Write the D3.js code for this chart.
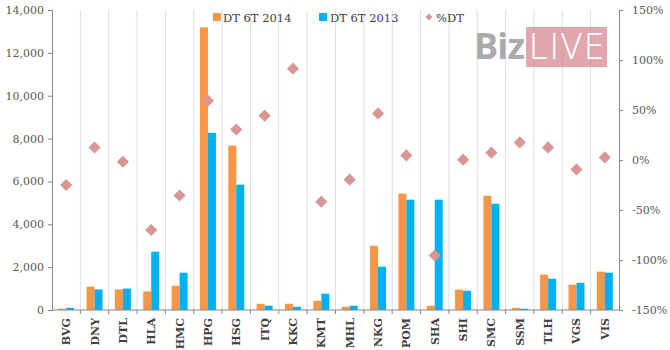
<!DOCTYPE html>
<html>
<head>
<meta charset="utf-8">
<script src="https://cdn.jsdelivr.net/npm/d3@7"></script>
<style>
	body { margin: 0; background: #fff; }
	#chart { width: 670px; height: 350px; }
	.axis text { font-family: "DejaVu Serif", serif; font-size: 11px; fill: #595959; }
	.legend text { font-family: "DejaVu Serif", serif; font-size: 11.5px; fill: #404040; }
	.cat-label { font-family: "DejaVu Serif", serif; font-size: 11px; font-weight: bold; fill: #404040; }
</style>
</head>
<body>
<div id="chart"></div>
<script>

// Data
let categories = ["BVG", "DNY", "DTL", "HLA", "HMC", "HPG", "HSG", "ITQ", "KKC", "KMT",
	"MHL", "NKG", "POM", "SHA", "SHI", "SMC", "SSM", "TLH", "VGS", "VIS"];
let dt2014 = [60, 1090, 960, 870, 1130, 13190, 7670, 290, 290, 430,
	150, 3000, 5430, 200, 950, 5330, 100, 1650, 1180, 1790];
let dt2013 = [100, 960, 1000, 2720, 1740, 8270, 5850, 200, 150, 760,
	200, 2020, 5150, 5150, 900, 4960, 60, 1460, 1270, 1740];
let pctDT = [-0.25, 0.125, -0.017, -0.70, -0.355, 0.593, 0.305, 0.443, 0.913, -0.417,
	-0.197, 0.466, 0.046, -0.955, 0.003, 0.073, 0.176, 0.126, -0.094, 0.026];
let leftTicks = [0, 2000, 4000, 6000, 8000, 10000, 12000, 14000];
let rightTicks = [-1.5, -1, -0.5, 0, 0.5, 1, 1.5];
let seriesNames = ["DT 6T 2014", "DT 6T 2013", "%DT"];

let colors = {o: "#f79646", b: "#00b0f0", d: "#d99694"};

let margin = {top: 10, right: 51, bottom: 40, left: 52};
let width = 670 - margin.left - margin.right;
let height = 350 - margin.top - margin.bottom;

let svg = d3.select("#chart").append("svg")
	.attr("width", 670)
	.attr("height", 350)
	.append("g")
	.attr("transform", "translate(" + margin.left + "," + margin.top + ")");

// Scales
let x = d3.scaleBand().domain(categories).range([0, width]).padding(0);
let bw = 8;
let x1 = d3.scaleBand().domain(["2014", "2013"])
	.range([x.bandwidth() / 2 - bw, x.bandwidth() / 2 + bw]);
let y = d3.scaleLinear().domain([0, 14000]).range([height, 0]);
let y2 = d3.scaleLinear().domain([-1.5, 1.5]).range([height, 0]);

// Vertical gridlines at category boundaries
let bounds = categories.map(c => x(c)).slice(1);
svg.selectAll(".grid").data(bounds).enter().append("line")
	.attr("class", "grid")
	.attr("x1", d => d).attr("x2", d => d)
	.attr("y1", 0).attr("y2", height)
	.attr("stroke", "#d6e0ee").attr("stroke-width", 1);

// Watermark
let wm = svg.append("g").attr("transform", "translate(" + (474 - margin.left) + ",0)");
wm.append("text")
	.attr("x", 0).attr("y", 59 - margin.top)
	.attr("font-family", "Open Sans, sans-serif")
	.attr("font-weight", "bold")
	.attr("font-size", 36)
	.attr("fill", "#a6a6a6")
	.attr("fill-opacity", 0.95)
	.attr("textLength", 51)
	.text("Biz");
wm.append("rect")
	.attr("x", 526 - 474).attr("y", 27 - margin.top)
	.attr("width", 81).attr("height", 40)
	.attr("fill", "#d0707c").attr("fill-opacity", 0.62);
wm.append("text")
	.attr("x", 529 - 474).attr("y", 59 - margin.top)
	.attr("font-family", "Open Sans, sans-serif")
	.attr("font-weight", 300)
	.attr("font-size", 36)
	.attr("fill", "#ffffff")
	.attr("textLength", 75)
	.text("LIVE");

// Bars
let groups = svg.selectAll(".cat").data(categories).enter().append("g")
	.attr("class", "cat")
	.attr("transform", d => "translate(" + x(d) + ",0)");

groups.append("rect")
	.attr("x", x1("2014")).attr("width", x1.bandwidth())
	.attr("y", (d, i) => y(dt2014[i]))
	.attr("height", (d, i) => height - y(dt2014[i]))
	.attr("fill", colors.o);

groups.append("rect")
	.attr("x", x1("2013")).attr("width", x1.bandwidth())
	.attr("y", (d, i) => y(dt2013[i]))
	.attr("height", (d, i) => height - y(dt2013[i]))
	.attr("fill", colors.b);

// %DT diamonds
let diamond = d3.symbol().type(d3.symbolSquare).size(74);
svg.selectAll(".pt").data(categories).enter().append("path")
	.attr("class", "pt")
	.attr("d", diamond)
	.attr("transform", (d, i) => "translate(" + (x(d) + x.bandwidth() / 2) + "," + y2(pctDT[i]) + ") rotate(45)")
	.attr("fill", colors.d);

// Axes
let yAxis = d3.axisLeft(y).tickValues(leftTicks).tickFormat(d3.format(",")).tickSize(4).tickPadding(4);
let pctFmt = d => Math.round(d * 100) + "%";
let y2Axis = d3.axisRight(y2).tickValues(rightTicks).tickFormat(pctFmt).tickSize(4).tickPadding(9);

svg.append("g").attr("class", "axis y-axis").call(yAxis);
svg.append("g").attr("class", "axis y2-axis")
	.attr("transform", "translate(" + width + ",0)")
	.call(y2Axis);
svg.selectAll(".axis path, .axis line").attr("stroke", "#868686");

// Bottom axis: line, boundary ticks, rotated labels
svg.append("line")
	.attr("x1", 0).attr("x2", width)
	.attr("y1", height).attr("y2", height)
	.attr("stroke", "#868686");
svg.selectAll(".xtick").data(bounds).enter().append("line")
	.attr("class", "xtick")
	.attr("x1", d => d).attr("x2", d => d)
	.attr("y1", height).attr("y2", height + 4)
	.attr("stroke", "#868686");

svg.selectAll(".cat-label").data(categories).enter().append("text")
	.attr("class", "cat-label")
	.attr("text-anchor", "end")
	.attr("transform", d => "translate(" + (x(d) + x.bandwidth() / 2 + 4) + "," + (height + 8) + ") rotate(-90)")
	.text(d => d);

// Legend
let legend = svg.append("g").attr("class", "legend");
legend.append("rect").attr("x", 213 - margin.left).attr("y", 13 - margin.top)
	.attr("width", 8).attr("height", 8).attr("fill", colors.o);
legend.append("text").attr("x", 223 - margin.left).attr("y", 22 - margin.top).text(seriesNames[0]);
legend.append("rect").attr("x", 319 - margin.left).attr("y", 13 - margin.top)
	.attr("width", 8).attr("height", 8).attr("fill", colors.b);
legend.append("text").attr("x", 330 - margin.left).attr("y", 22 - margin.top).text(seriesNames[1]);
legend.append("path")
	.attr("d", d3.symbol().type(d3.symbolSquare).size(26))
	.attr("transform", "translate(" + (429 - margin.left) + "," + (17 - margin.top) + ") rotate(45)")
	.attr("fill", colors.d);
legend.append("text").attr("x", 436 - margin.left).attr("y", 22 - margin.top).text(seriesNames[2]);

</script>
</body>
</html>
